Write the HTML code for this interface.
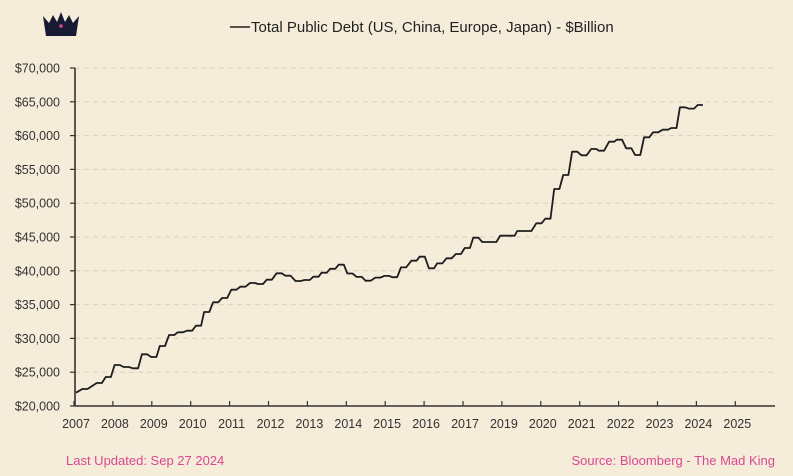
<!DOCTYPE html>
<html><head><meta charset="utf-8">
<style>
body{margin:0;background:#f6ecda;}
svg{display:block;font-family:"Liberation Sans",sans-serif;}
</style></head>
<body>
<svg id="chart" width="793" height="476" viewBox="0 0 793 476">
<rect width="793" height="476" fill="#f6ecda"/>
<g fill="#161a33">
<path d="M43 16 L49 23 L53 15 L57 22 L61 12 L65 22 L69 15 L73 23 L79 16 L76 36 L46 36 Z"/>
<circle cx="61" cy="26" r="1.8" fill="#d9488f"/>
</g>
<g>
<line x1="230" y1="27" x2="250" y2="27" stroke="#222" stroke-width="1.6"/>
<text x="251" y="32" font-size="15" fill="#222">Total Public Debt (US, China, Europe, Japan) - $Billion</text>
</g>
<g id="grid"></g><g id="axes"></g><g id="series"></g>
<text x="66" y="465" font-size="13" fill="#d9488f" font-family="Liberation Sans Narrow, Liberation Sans, sans-serif">Last Updated: Sep 27 2024</text>
<text x="775" y="465" font-size="13" fill="#d9488f" text-anchor="end" font-family="Liberation Sans Narrow, Liberation Sans, sans-serif">Source: Bloomberg - The Mad King</text>
</svg>
<script>
const dates=[2007.0,2007.23,2007.60,2007.83,2008.06,2008.29,2008.53,2008.76,2009.00,2009.22,2009.46,2009.68,2009.92,2010.15,2010.36,2010.59,2010.82,2011.06,2011.29,2011.54,2011.74,2011.97,2012.22,2012.45,2012.71,2012.94,2013.17,2013.38,2013.60,2013.82,2014.04,2014.28,2014.51,2014.76,2014.99,2015.19,2015.42,2015.69,2015.90,2016.14,2016.35,2016.59,2016.83,2017.06,2017.28,2017.51,2017.74,2017.97,2018.21,2018.41,2018.64,2018.90,2019.13,2019.36,2019.59,2019.82,2020.06,2020.31,2020.51,2020.77,2020.97,2021.21,2021.44,2021.67,2021.90,2022.15,2022.37,2022.59,2022.82,2023.05];
const debt=[21970,22510,23400,24290,26070,25770,25580,27650,27250,28880,30500,30900,31140,31880,33900,35340,35980,37200,37650,38200,38050,38680,39630,39270,38490,38640,39130,39720,40300,40900,39600,39100,38540,39000,39250,39050,40500,41500,42080,40370,41100,41850,42480,43370,44900,44260,44260,45190,45190,45890,45890,47030,47710,52100,54170,57620,57080,58020,57770,59100,59400,58120,57130,59750,60490,60870,61120,64190,63990,64530];
const yTicks=[20000,25000,30000,35000,40000,45000,50000,55000,60000,65000,70000];
const xTickLabels=["2007","2008","2009","2010","2011","2012","2013","2014","2015","2016","2017","2019","2020","2021","2022","2023","2024","2025"];
const NS="http://www.w3.org/2000/svg";
const x=d=>76+(d-2007)*38.9;
const y=v=>406-(v-20000)/5000*33.8;
function mk(tag,attrs,parent){const e=document.createElementNS(NS,tag);for(const k in attrs)e.setAttribute(k,attrs[k]);parent.appendChild(e);return e;}
const grid=document.getElementById('grid'),axes=document.getElementById('axes'),series=document.getElementById('series');
yTicks.forEach(v=>{
 if(v>20000){const g=mk('line',{x1:75,x2:775,y1:y(v),y2:y(v),stroke:'#dcd0bc','stroke-width':1,'stroke-dasharray':'5,4'},grid);
 
 }
 const t=mk('line',{x1:70,x2:75,y1:y(v),y2:y(v),stroke:'#333','stroke-width':1.2},axes);
 
 
 const l=mk('text',{x:60,y:y(v)+4.5,'font-size':12.5,fill:'#333','text-anchor':'end'},axes);
 l.textContent='$'+v.toLocaleString('en-US');
 
 
});
const ya=mk('line',{x1:75,x2:75,y1:y(70000),y2:406,stroke:'#333','stroke-width':1.6},axes);


const xa=mk('line',{x1:75,x2:775,y1:406,y2:406,stroke:'#333','stroke-width':1.6},axes);


xTickLabels.forEach((s,i)=>{
 const px=x(2007+i);
 const t=mk('line',{x1:px-2,x2:px-2,y1:401,y2:406,stroke:'#333','stroke-width':1.2},axes);
 
 
 const l=mk('text',{x:px,y:428,'font-size':12.5,fill:'#333','text-anchor':'middle','font-family':'Liberation Sans Narrow, Liberation Sans, sans-serif'},axes);
 l.textContent=s;
 
 
});
let pts=[];
dates.forEach((d,i)=>{
 if(i===0){pts.push([x(d),y(debt[i])]);return;}
 pts.push([x(d)-2.6,y(debt[i])]);pts.push([x(d)+2.6,y(debt[i])]);
});
const line=mk('path',{d:'M'+pts.map(p=>p[0].toFixed(1)+','+p[1].toFixed(1)).join('L'),fill:'none',stroke:'#1e1e1e','stroke-width':1.8,'stroke-linejoin':'round'},series);


</script>
</body></html>
